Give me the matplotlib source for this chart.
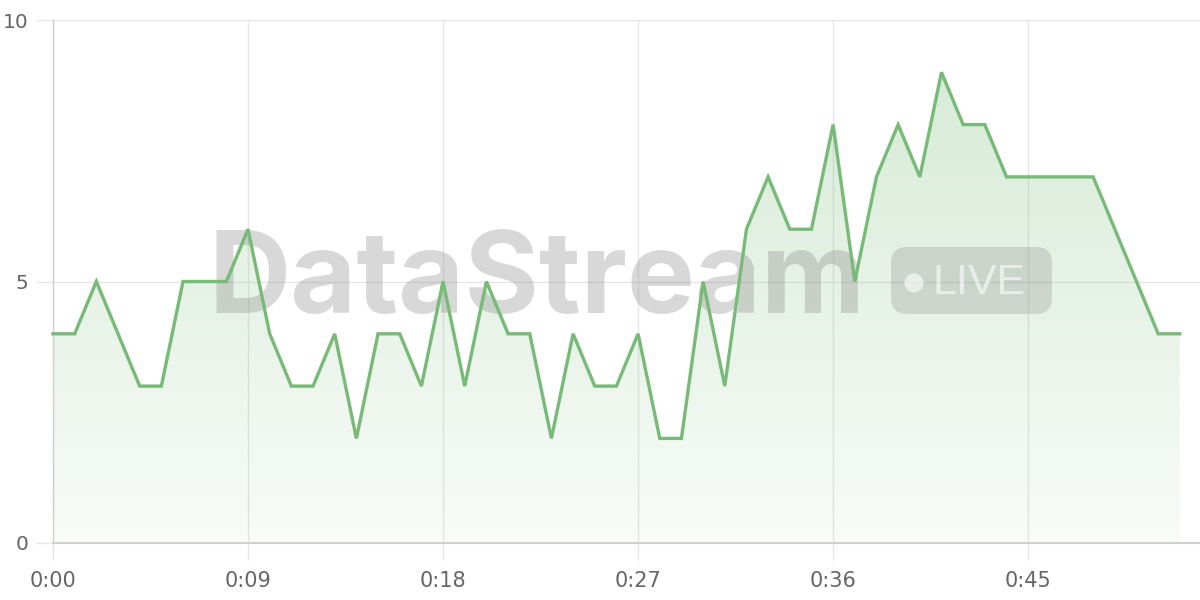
import matplotlib
matplotlib.use("Agg")
import matplotlib.pyplot as plt
import numpy as np
from matplotlib.transforms import IdentityTransform
from matplotlib.patches import FancyBboxPatch, Circle, Polygon

# ---- data ----
seconds = list(range(53))
values = [4, 4, 5, 4, 3, 3, 5, 5, 5, 6, 4, 3, 3, 4, 2, 4, 4, 3, 5, 3,
          5, 4, 4, 2, 4, 3, 3, 4, 2, 2, 5, 3, 6, 7, 6, 6, 8, 5, 7, 8,
          7, 9, 8, 8, 7, 7, 7, 7, 7, 6, 5, 4, 4]
x_ticks = [0, 9, 18, 27, 36, 45]
x_tick_labels = ["0:00", "0:09", "0:18", "0:27", "0:36", "0:45"]
y_ticks = [0, 5, 10]
y_tick_labels = ["0", "5", "10"]
watermark = "DataStream"
badge_text = "LIVE"

W, H = 1200, 600
fig = plt.figure(figsize=(12, 6), dpi=100)
fig.patch.set_facecolor("white")
ax = fig.add_axes([53 / W, 57 / H, (W - 53) / W, 523 / H])
ax.set_facecolor("white")

ax.set_xlim(0, 52.93)
ax.set_ylim(0, 10)

line_color = (0.47, 0.73, 0.47)
grid_color = "#e6e6e6"
axis_color = "#d0d0d0"
tick_text = "#666666"

# grid
ax.set_axisbelow(True)
ax.set_xticks(x_ticks)
ax.set_xticklabels(x_tick_labels)
ax.set_yticks(y_ticks)
ax.set_yticklabels(y_tick_labels)
ax.grid(True, color=grid_color, linewidth=1.0)
ax.tick_params(axis="both", length=12, width=1.0, color=grid_color,
               labelcolor=tick_text)
ax.tick_params(axis="x", pad=8, labelsize=15)
ax.tick_params(axis="y", pad=5.5, labelsize=14.5)
for lab in ax.get_xticklabels() + ax.get_yticklabels():
    lab.set_fontfamily("DejaVu Sans")
for s in ["top", "right"]:
    ax.spines[s].set_visible(False)
ax.spines["left"].set_color(axis_color)
ax.spines["bottom"].set_color(axis_color)
ax.spines["left"].set_linewidth(1.0)
ax.spines["bottom"].set_linewidth(1.5)

# gradient fill under the line
ny = 256
alpha = np.linspace(0.05, 0.32, ny)[:, None]
grad = np.zeros((ny, 2, 4))
grad[..., 0] = line_color[0]
grad[..., 1] = line_color[1]
grad[..., 2] = line_color[2]
grad[..., 3] = alpha
img = ax.imshow(grad, extent=[0, seconds[-1], 0, 10], origin="lower",
                aspect="auto", zorder=1, interpolation="bilinear")
poly_pts = [(seconds[0], 0)] + list(zip(seconds, values)) + [(seconds[-1], 0)]
clip = Polygon(poly_pts, closed=True, transform=ax.transData,
               facecolor="none", edgecolor="none")
ax.add_patch(clip)
img.set_clip_path(clip)

# watermark (pixel coordinates, y measured from top)
ident = IdentityTransform()
def px(x, y):
    return x, H - y

wx, wy = px(209, 313)
ax.text(wx, wy, watermark, transform=ident, fontfamily="Inter",
        fontweight="bold", fontsize=82, color=(0.5, 0.5, 0.5, 0.3),
        ha="left", va="baseline", zorder=2, clip_on=False)

bx0, by0 = px(891, 314)
badge = FancyBboxPatch((bx0, by0), 1052 - 891, 314 - 247,
                       boxstyle="round,pad=0,rounding_size=16",
                       transform=ident, facecolor=(0.5, 0.5, 0.5, 0.25),
                       edgecolor="none", zorder=2, clip_on=False)
ax.add_patch(badge)
cx, cy = px(914, 283)
ax.add_patch(Circle((cx, cy), 9.5, transform=ident,
                    facecolor=(1, 1, 1, 0.6), edgecolor="none",
                    zorder=2.1, clip_on=False))
tx, ty = px(932, 294)
ax.text(tx, ty, badge_text, transform=ident, fontfamily="Liberation Sans",
        fontsize=31, color=(1, 1, 1, 0.6), ha="left", va="baseline",
        zorder=2.1, clip_on=False)

# line
ax.plot(seconds, values, color=line_color, linewidth=2.4, zorder=3,
        solid_joinstyle="miter", clip_on=False)

fig.savefig("out.png", dpi=100, facecolor="white")
